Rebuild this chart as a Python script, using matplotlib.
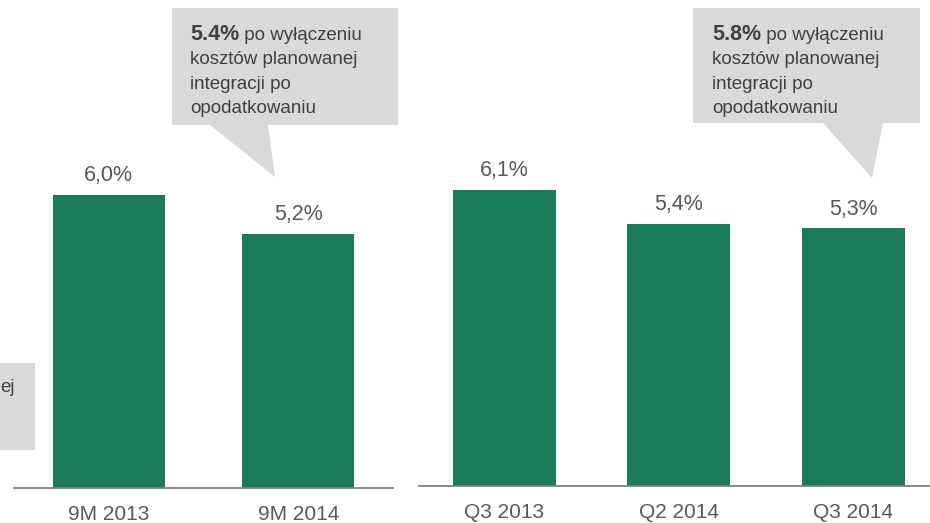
import matplotlib.pyplot as plt
from matplotlib.patches import Polygon, Rectangle

plt.rcParams['font.family'] = ['Liberation Sans', 'DejaVu Sans']

# dane
okresy_9m = ['9M 2013', '9M 2014']
wartosci_9m = [6.0, 5.2]
okresy_q = ['Q3 2013', 'Q2 2014', 'Q3 2014']
wartosci_q = [6.1, 5.4, 5.3]
etykiety_9m = ['6,0%', '5,2%']
etykiety_q = ['6,1%', '5,4%', '5,3%']

ZIELONY = '#1a7b58'
SZARY_TXT = '#595959'
SZARY_DYMEK = '#404040'
SZARY_TLO = '#d9d9d9'
W, H = 930, 523

fig = plt.figure(figsize=(W / 100, H / 100), dpi=100)


def px_ax(x0, x1, y_base, y_top):
    # osie podane w pikselach obrazka (y od gory)
    return fig.add_axes([x0 / W, (H - y_base) / H, (x1 - x0) / W, (y_base - y_top) / H])


def rysuj_panel(ax, okresy, wartosci, etykiety, xlim):
    xs = list(range(len(okresy)))
    ax.bar(xs, wartosci, width=0.59, color=ZIELONY, zorder=2)
    for x, v, e in zip(xs, wartosci, etykiety):
        ax.annotate(e, xy=(x, v), xytext=(0, 10), textcoords='offset points',
                    ha='center', va='baseline', fontsize=15.5, color=SZARY_TXT)
    ax.set_xlim(*xlim)
    ax.set_ylim(0, 10)
    ax.set_xticks(xs)
    ax.set_xticklabels(okresy, fontsize=15, color=SZARY_TXT)
    ax.tick_params(axis='x', length=0, pad=12.5)
    ax.set_yticks([])
    for s in ['top', 'left', 'right']:
        ax.spines[s].set_visible(False)
    ax.spines['bottom'].set_color('#7f7f7f')
    ax.spines['bottom'].set_linewidth(1.3)
    ax.spines['bottom'].set_zorder(3)
    ax.patch.set_alpha(0)


ax1 = px_ax(14, 393, 488, 0)
rysuj_panel(ax1, okresy_9m, wartosci_9m, etykiety_9m, (-0.5, 1.5))

ax2 = px_ax(419, 930, 486, 0)
rysuj_panel(ax2, okresy_q, wartosci_q, etykiety_q, (-0.49, 2.44))

# warstwa na dymki (wspolrzedne w pikselach)
ov = fig.add_axes([0, 0, 1, 1], zorder=5)
ov.set_xlim(0, W)
ov.set_ylim(H, 0)
ov.axis('off')
ov.patch.set_alpha(0)

# szara ramka ucieta z lewej
ov.add_patch(Rectangle((0, 363), 35, 87, color=SZARY_TLO, lw=0))
ov.text(0.5, 387, 'ej', ha='left', va='center', fontsize=13.5, color=SZARY_DYMEK)


def dymek(x0, x1, y0, y1, ogon, pogrubione, reszta, tx):
    pts = [(x0, y0), (x1, y0), (x1, y1), (ogon[1], y1), ogon[2], (ogon[0], y1), (x0, y1)]
    ov.add_patch(Polygon(pts, closed=True, color=SZARY_TLO, lw=0))
    t = ov.text(tx, 40, pogrubione, fontsize=15.5, fontweight='bold', color=SZARY_DYMEK,
                ha='left', va='baseline')
    r = fig.canvas.get_renderer()
    bb = t.get_window_extent(renderer=r)
    ov.text(tx + bb.width, 40, ' ' + reszta[0], fontsize=13.5, color=SZARY_DYMEK,
            ha='left', va='baseline')
    for i, linia in enumerate(reszta[1:]):
        ov.text(tx, 64.5 + 24.3 * i, linia, fontsize=13.5, color=SZARY_DYMEK,
                ha='left', va='baseline')


opis = ['po wyłączeniu', 'kosztów planowanej', 'integracji po', 'opodatkowaniu']
dymek(172, 398, 8, 125, (210, 268, (275, 177)), '5.4%', opis, 190)
dymek(693, 920, 8, 123, (823, 883, (872, 178)), '5.8%', opis, 712)

fig.savefig('out.png', dpi=100)
